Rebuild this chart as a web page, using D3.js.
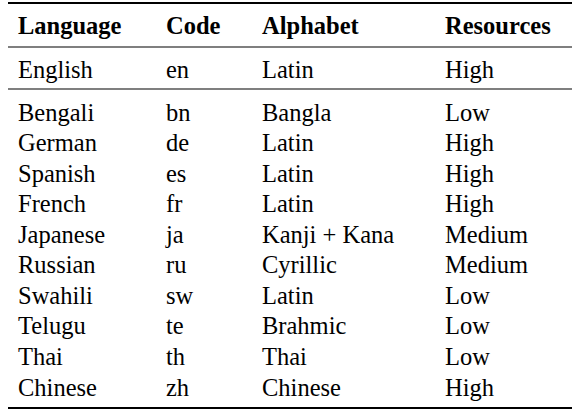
<!DOCTYPE html>
<html><head><meta charset="utf-8">
<script src="https://cdn.jsdelivr.net/npm/d3@7"></script>
<style>body{margin:0;background:#fff}</style></head>
<body><script>
const headers = ["Language","Code","Alphabet","Resources"];
const languages = ["English","Bengali","German","Spanish","French","Japanese","Russian","Swahili","Telugu","Thai","Chinese"];
const codes = ["en","bn","de","es","fr","ja","ru","sw","te","th","zh"];
const alphabets = ["Latin","Bangla","Latin","Latin","Latin","Kanji + Kana","Cyrillic","Latin","Brahmic","Thai","Chinese"];
const resources = ["High","Low","High","High","High","Medium","Medium","Low","Low","Low","High"];

const W=580,H=412;
const svg=d3.select("body").append("svg").attr("width",W).attr("height",H);
const colX=[18,166,262,445];
const y=d3.scaleLinear().domain([1,10]).range([112,387]);
const font="'Liberation Serif', 'Times New Roman', serif";
const cols=[languages,codes,alphabets,resources];
[[3,2],[47,1.2],[89,1.2],[408,2]].forEach(([yy,w])=>svg.append("line").attr("x1",8).attr("x2",572).attr("y1",yy).attr("y2",yy).attr("stroke","#000").attr("stroke-width",w));
headers.forEach((h,i)=>svg.append("text").attr("x",colX[i]).attr("y",25).attr("dominant-baseline","central").attr("font-family",font).attr("font-weight","bold").attr("font-size",24.5).text(h));
languages.forEach((l,r)=>{
  const yy=r===0?69:y(r);
  cols.forEach((c,i)=>svg.append("text").attr("x",colX[i]).attr("y",yy).attr("dominant-baseline","central").attr("font-family",font).attr("font-size",24.5).text(c[r]));
});
</script></body></html>
